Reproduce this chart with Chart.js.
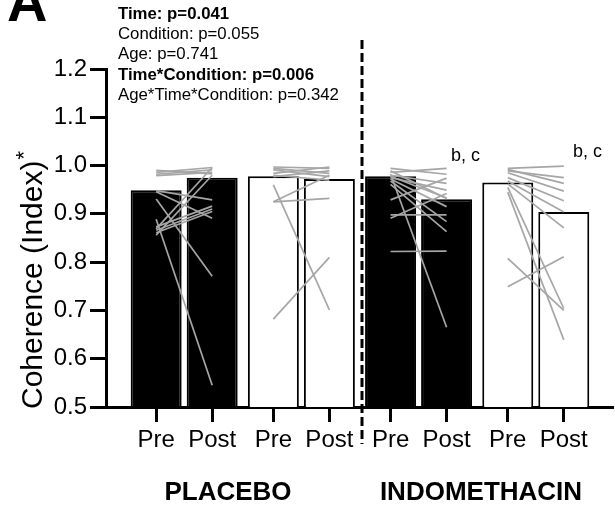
<!DOCTYPE html>
<html>
<head>
<meta charset="utf-8">
<script src="https://cdn.jsdelivr.net/npm/chart.js@4.4.1/dist/chart.umd.min.js"></script>
<style>
  html, body { margin: 0; padding: 0; background: #fff; }
  canvas { display: block; }
</style>
</head>
<body>
<canvas id="grafico" width="615" height="506"></canvas>
<script>
// bar means, one per group (placebo black, placebo white, indo black, indo white)
const barPre  = [0.949, 0.978, 0.978, 0.965];
const barPost = [0.975, 0.972, 0.930, 0.904];
const tickLabels = ["Pre", "Post", "Pre", "Post", "Pre", "Post", "Pre", "Post"];

// individual subjects, pre -> post
const placeboBlackPre  = [0.986, 0.982, 0.979, 0.990, 0.948, 0.946, 0.931, 0.889, 0.873, 0.866, 0.861, 0.856, 0.869];
const placeboBlackPost = [0.996, 0.991, 0.986, 0.983, 0.929, 0.891, 0.771, 0.545, 0.916, 0.910, 0.905, 0.980, 0.996];
const placeboWhitePre  = [0.997, 0.994, 0.991, 0.984, 0.980, 0.977, 0.925, 0.925, 0.960, 0.682];
const placeboWhitePost = [0.994, 0.984, 0.977, 0.997, 0.970, 0.989, 0.980, 0.932, 0.701, 0.810];
const indoBlackPre  = [0.994, 0.986, 0.980, 0.978, 0.975, 0.972, 0.968, 0.961, 0.982, 0.929, 0.898, 0.891, 0.822, 0.989];
const indoBlackPost = [0.982, 0.994, 0.963, 0.933, 0.949, 0.915, 0.884, 0.863, 0.665, 0.974, 0.898, 0.942, 0.823, 0.932];
const indoWhitePre  = [0.994, 0.992, 0.989, 0.985, 0.975, 0.968, 0.962, 0.955, 0.945, 0.808, 0.749];
const indoWhitePost = [0.999, 0.963, 0.975, 0.947, 0.927, 0.904, 0.871, 0.704, 0.639, 0.700, 0.811];

const statsLines = [
  { text: "Time: p=0.041", bold: true },
  { text: "Condition: p=0.055", bold: false },
  { text: "Age: p=0.741", bold: false },
  { text: "Time*Condition: p=0.006", bold: true },
  { text: "Age*Time*Condition: p=0.342", bold: false }
];

const barColors = ["#000", "#fff", "#000", "#fff"];
const FONT = "'Liberation Sans', Arial, Helvetica, sans-serif";
const catPct = 0.956;
const off = catPct / 4; // centre of Pre / Post bar inside a group
const xMin = -0.667, xMax = 3.659;

Chart.defaults.font.family = FONT;
Chart.defaults.color = "#000";

const subjects = [
  [placeboBlackPre, placeboBlackPost],
  [placeboWhitePre, placeboWhitePost],
  [indoBlackPre, indoBlackPost],
  [indoWhitePre, indoWhitePost]
];

const lineSets = [];
subjects.forEach(([pre, post], g) => {
  pre.forEach((v, k) => {
    lineSets.push({
      type: "line",
      xAxisID: "xb",
      data: [{ x: g - off, y: v }, { x: g + off, y: post[k] }],
      borderColor: "#a6a6a6",
      borderWidth: 1.7,
      pointRadius: 0,
      order: 1
    });
  });
});

function barSet(values) {
  return {
    type: "bar",
    xAxisID: "xb",
    data: values.map((v, g) => ({ x: g, y: v })),
    backgroundColor: barColors,
    borderColor: "#000",
    borderWidth: 2,
    borderSkipped: false,
    categoryPercentage: catPct,
    barPercentage: 0.91,
    order: 2
  };
}

// textos, linha tracejada e titulo do eixo y
const extras = {
  id: "extras",
  afterDraw(chart) {
    const ctx = chart.ctx;
    ctx.save();
    ctx.fillStyle = "#000";
    ctx.textBaseline = "alphabetic";

    ctx.font = "bold 56px " + FONT;
    ctx.textAlign = "left";
    ctx.fillText("A", 7, 21);

    statsLines.forEach((l, i) => {
      ctx.font = (l.bold ? "bold " : "") + "16.8px " + FONT;
      ctx.fillText(l.text, 118, 19 + i * 20.2);
    });

    ctx.font = "18px " + FONT;
    ctx.fillText("b, c", 451, 161);
    ctx.fillText("b, c", 573, 157);

    ctx.font = "bold 26px " + FONT;
    ctx.textAlign = "center";
    ctx.fillText("PLACEBO", 228, 500);
    ctx.fillText("INDOMETHACIN", 481, 500);

    // separador placebo / indometacina
    ctx.strokeStyle = "#000";
    ctx.lineWidth = 3;
    ctx.setLineDash([9, 4]);
    ctx.beginPath();
    ctx.moveTo(362, 40);
    ctx.lineTo(362, 444);
    ctx.stroke();
    ctx.setLineDash([]);

    // titulo do eixo y com asterisco sobrescrito
    ctx.translate(42, 409);
    ctx.rotate(-Math.PI / 2);
    ctx.textAlign = "left";
    ctx.font = "30px " + FONT;
    const t = "Coherence (Index)";
    ctx.fillText(t, 0, 0);
    const w = ctx.measureText(t).width;
    ctx.font = "22px " + FONT;
    ctx.fillText("*", w + 1, -11);
    ctx.restore();
  }
};

new Chart(document.getElementById("grafico"), {
  data: { datasets: [barSet(barPre), barSet(barPost), ...lineSets] },
  options: {
    responsive: false,
    animation: false,
    devicePixelRatio: 1,
    layout: { padding: { top: 69, right: 2, left: 0, bottom: 0 } },
    plugins: { legend: { display: false }, tooltip: { enabled: false } },
    scales: {
      // visible axis: Pre / Post ticks under each bar
      x: {
        type: "linear",
        position: "bottom",
        min: xMin,
        max: xMax,
        offset: false,
        afterBuildTicks: (s) => {
          s.ticks = tickLabels.map((_, k) => ({ value: Math.floor(k / 2) + (k % 2 ? off : -off) }));
        },
        afterFit: (s) => { s.height = 99; },
        ticks: {
          autoSkip: false,
          maxRotation: 0,
          padding: 4,
          font: { size: 24 },
          callback: (v, i) => tickLabels[i]
        },
        grid: { offset: false, drawOnChartArea: false, tickLength: 15, tickWidth: 3, tickColor: "#000" },
        border: { color: "#000", width: 3 }
      },
      // hidden axis that places the bars and subject lines
      xb: {
        type: "linear",
        position: "bottom",
        display: false,
        min: xMin,
        max: xMax,
        offset: false,
        afterBuildTicks: (s) => {
          s.ticks = barPre.map((_, g) => ({ value: g }));
        },
        grid: { offset: false }
      },
      y: {
        min: 0.5,
        max: 1.2,
        afterFit: (s) => { s.width = 106; },
        ticks: {
          stepSize: 0.1,
          padding: 3,
          font: { size: 24 },
          callback: (v) => v.toFixed(1)
        },
        grid: { drawOnChartArea: false, tickLength: 16, tickWidth: 3, tickColor: "#000" },
        border: { color: "#000", width: 3 }
      }
    }
  },
  plugins: [extras]
});
</script>
</body>
</html>
